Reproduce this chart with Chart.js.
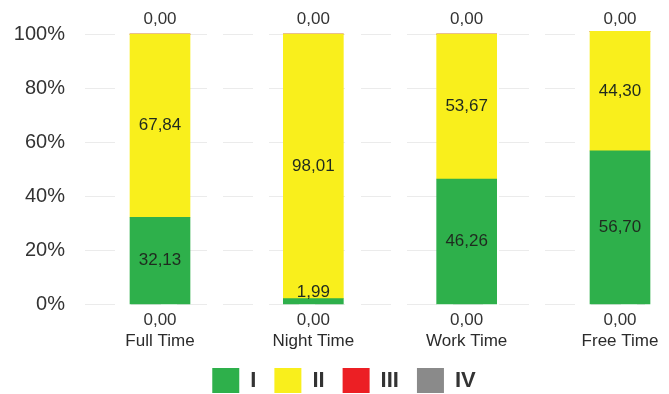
<!DOCTYPE html>
<html>
<head>
<meta charset="utf-8">
<script src="https://cdn.jsdelivr.net/npm/chart.js@4/dist/chart.umd.min.js"></script>
<style>
  html, body { margin: 0; padding: 0; background: #ffffff; }
  canvas { display: block; }
</style>
</head>
<body>
<canvas id="chart" width="669" height="394"></canvas>
<script>
// Categories and series shares (%) per time period
const categories = ['Full Time', 'Night Time', 'Work Time', 'Free Time'];
const seriesNames = ['I', 'II', 'III', 'IV'];
const valuesI   = [32.13, 1.99, 46.26, 56.70];
const valuesII  = [67.84, 98.01, 53.67, 44.30];
const valuesIII = [0.00, 0.00, 0.00, 0.00];
const valuesIV  = [0.00, 0.00, 0.00, 0.00];
const yTicks = [0, 20, 40, 60, 80, 100];

const colors = ['#2eb04b', '#f9ef1c', '#ec1f24', '#8a8a8a'];
const FONT = '"Liberation Sans", Arial, sans-serif';

function fmt(v) { return v.toFixed(2).replace('.', ','); }

// Faint broken horizontal guide lines behind the bars
const guideLines = {
  id: 'guideLines',
  beforeDatasetsDraw(chart) {
    const { ctx, scales: { y } } = chart;
    ctx.save();
    ctx.strokeStyle = '#ebebeb';
    ctx.lineWidth = 1;
    ctx.setLineDash([30, 16]);
    yTicks.forEach(t => {
      const py = Math.round(y.getPixelForValue(t)) + 0.5;
      ctx.beginPath();
      ctx.moveTo(85, py);
      ctx.lineTo(645, py);
      ctx.stroke();
    });
    ctx.restore();
  }
};

// Centre the legend row under the whole figure rather than the layout box
const legendShift = {
  id: 'legendShift',
  afterLayout(chart) {
    const lg = chart.legend;
    if (lg) { lg.left += 34; lg.right += 34; }
  }
};

// Value labels: I and II inside their segments, III above and IV below each bar
const valueLabels = {
  id: 'valueLabels',
  afterDatasetsDraw(chart) {
    const { ctx, scales: { y } } = chart;
    ctx.save();
    ctx.font = '17px ' + FONT;
    ctx.textAlign = 'center';
    chart.data.datasets.forEach((ds, di) => {
      const meta = chart.getDatasetMeta(di);
      meta.data.forEach((bar, i) => {
        const text = fmt(ds.data[i]);
        if (di === 0 || di === 1) {
          const h = bar.base - bar.y;
          ctx.fillStyle = '#1f2a1f';
          if (h >= 22) {
            ctx.textBaseline = 'middle';
            ctx.fillText(text, bar.x, (bar.y + bar.base) / 2);
          } else {
            ctx.textBaseline = 'bottom';
            ctx.fillText(text, bar.x, bar.y + 2);
          }
        } else if (di === 2) {
          ctx.fillStyle = '#333333';
          ctx.textBaseline = 'middle';
          ctx.fillText(text, bar.x, y.getPixelForValue(100) - 15);
        } else {
          ctx.fillStyle = '#333333';
          ctx.textBaseline = 'middle';
          ctx.fillText(text, bar.x, y.getPixelForValue(0) + 16);
        }
      });
    });
    ctx.restore();
  }
};

const seriesValues = [valuesI, valuesII, valuesIII, valuesIV];

new Chart(document.getElementById('chart'), {
  type: 'bar',
  data: {
    labels: categories,
    datasets: seriesNames.map((name, k) => ({
      label: name,
      data: seriesValues[k],
      backgroundColor: colors[k],
      borderWidth: 0,
      barThickness: 60,
      clip: false
    }))
  },
  options: {
    responsive: false,
    animation: false,
    devicePixelRatio: 1,
    layout: { padding: { top: 34, left: 0, right: 49, bottom: -9 } },
    scales: {
      x: {
        stacked: true,
        offset: false,
        grid: { display: false, drawTicks: false },
        border: { display: false },
        afterFit(scale) {
          scale.height = 46;
          scale.paddingLeft = 0;
          scale.paddingRight = 0;
        },
        ticks: {
          autoSkip: false,
          maxRotation: 0,
          padding: 27,
          color: '#2b2b2b',
          font: { family: FONT, size: 17 }
        }
      },
      y: {
        stacked: true,
        min: 0,
        max: 100,
        grid: { display: false, drawTicks: false },
        border: { display: false },
        afterFit(scale) {
          scale.width = 160;
          scale.paddingTop = 0;
          scale.paddingBottom = 0;
        },
        ticks: {
          stepSize: 20,
          padding: 95,
          color: '#333333',
          font: { family: FONT, size: 20 },
          callback: v => v + '%'
        }
      }
    },
    plugins: {
      tooltip: { enabled: false },
      legend: {
        position: 'bottom',
        align: 'center',
        labels: {
          boxWidth: 27,
          boxHeight: 25,
          padding: 18,
          color: '#333333',
          font: { family: FONT, size: 22, weight: 'bold' }
        }
      }
    }
  },
  plugins: [guideLines, legendShift, valueLabels]
});
</script>
</body>
</html>
